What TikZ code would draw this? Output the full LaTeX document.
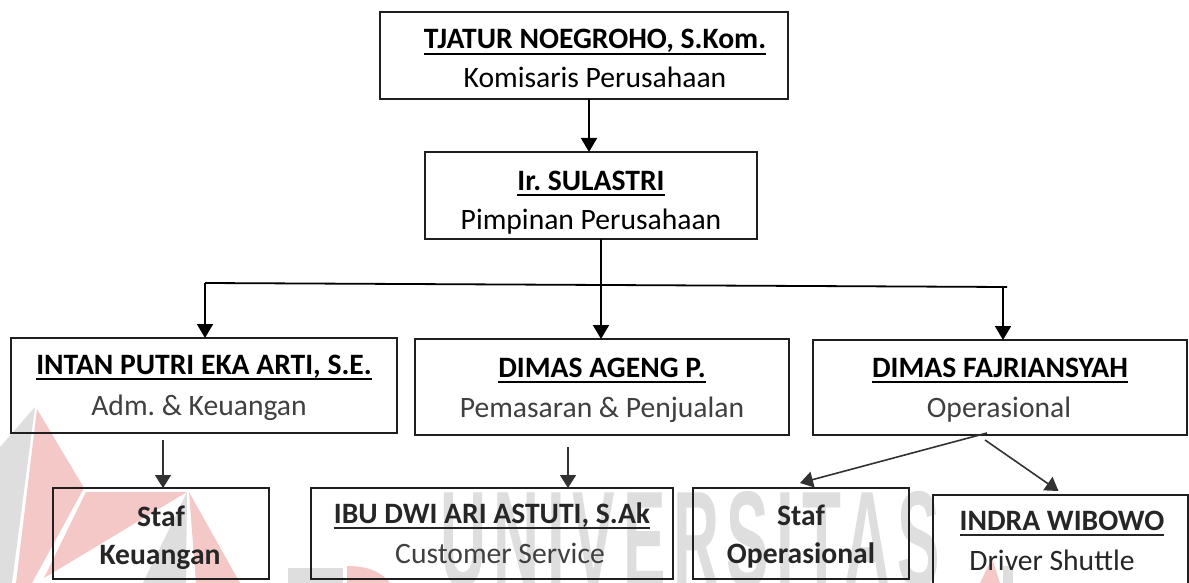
\documentclass[tikz,border=0pt]{standalone}
\usepackage{fontspec}
\setmainfont{Carlito}
\newfontfamily\wmfont[LetterSpace=12]{Liberation Sans}
\usetikzlibrary{arrows.meta}
\definecolor{wmred}{RGB}{245,200,200}
\definecolor{wmgrey}{RGB}{222,222,222}
\definecolor{rolegrey}{RGB}{64,64,64}
\definecolor{linegrey}{RGB}{50,50,50}
\newcommand\ulname[1]{\setbox0\hbox{#1}\rlap{\rule[-6pt]{\wd0}{2pt}}\box0}
\frenchspacing
\tikzset{
  bx/.style={draw=black!88, line width=1.8pt, inner sep=0pt, outer sep=0pt},
  nm/.style={anchor=base, inner sep=0pt, font=\fontsize{29.6}{35}\selectfont\bfseries, text=black},
  rl/.style={anchor=base, inner sep=0pt, font=\fontsize{29.6}{35}\selectfont, text=rolegrey},
  rlk/.style={rl, text=black},
  arr/.style={-{Triangle[width=16pt,length=14pt]}, line width=1.8pt, draw=black},
  arrg/.style={-{Triangle[width=16pt,length=13pt]}, line width=1.6pt, draw=linegrey},
}
\begin{document}
\begin{tikzpicture}[x=1pt,y=-1pt]
\clip (0,0) rectangle (1189,583);
\fill[white] (0,0) rectangle (1189,583);
% watermark
\fill[wmgrey] (35,407) -- (0,447) -- (0,583) -- (12,583) -- cycle;
\fill[wmred] (37,409) -- (84,488) -- (32,583) -- (16,583) -- cycle;
\fill[wmred] (187,492) -- (86,492) -- (44,578) -- cycle;
\fill[wmgrey] (187,492) -- (143,583) -- (186,583) -- cycle;
\fill[wmred] (189,492) -- (196,583) -- (240,583) -- cycle;
\fill[wmgrey] (288,568) rectangle (343,583);
\fill[wmred] (347,583) -- (347,566) .. controls (365,566) and (380,570) .. (390,583) -- cycle;
\fill[wmred] (980,583) -- (992,558) -- (1000,583) -- cycle;
\fill[wmgrey] (1003,566) rectangle (1013,583);
\node[anchor=south west, inner sep=0pt, text=wmgrey] (wmtext) at (440,588)
  {\resizebox{500pt}{95pt}{\wmfont\bfseries UNIVERSITAS}};
% boxes
\node[bx, minimum width=408pt, minimum height=87pt] (top) at (584,55.5) {};
\node[bx, minimum width=332pt, minimum height=87pt] (sul) at (591,195.5) {};
\node[bx, minimum width=386pt, minimum height=95pt] (intan) at (204,385.5) {};
\node[bx, minimum width=374pt, minimum height=96pt] (dimas) at (602,387) {};
\node[bx, minimum width=374pt, minimum height=95pt] (fajri) at (1000,387.5) {};
\node[bx, minimum width=216pt, minimum height=91pt] (stafk) at (161,533.5) {};
\node[bx, minimum width=362pt, minimum height=91pt] (ibu) at (492,533.5) {};
\node[bx, minimum width=216pt, minimum height=91pt] (stafo) at (801,533.5) {};
\node[bx, minimum width=255pt, minimum height=120pt] (indra) at (1060.5,555) {};
% texts
\node[nm] (topN) at (595,49) {\ulname{TJATUR NOEGROHO, S.Kom.}};
\node[rlk] (topR) at (595,88) {Komisaris Perusahaan};
\node[nm] (sulN) at (591,190) {\ulname{Ir. SULASTRI}};
\node[rlk] (sulR) at (591,229) {Pimpinan Perusahaan};
\node[nm] (intanN) at (204,374) {\ulname{INTAN PUTRI EKA ARTI, S.E.}};
\node[rl] (intanR) at (199,415) {Adm. \& Keuangan};
\node[nm] (dimasN) at (602,377) {\ulname{DIMAS AGENG P.}};
\node[rl] (dimasR) at (602,417) {Pemasaran \& Penjualan};
\node[nm] (fajriN) at (1000,377) {\ulname{DIMAS FAJRIANSYAH}};
\node[rl] (fajriR) at (999,417) {Operasional};
\node[nm, text=black!85] (stafkN) at (161,526) {Staf};
\node[nm, text=black!85] (stafkR) at (160,564) {Keuangan};
\node[nm, text=black!85] (ibuN) at (492,523) {\ulname{IBU DWI ARI ASTUTI, S.Ak}};
\node[rl] (ibuR) at (500,563) {Customer Service};
\node[nm, text=black!85] (stafoN) at (801,525) {Staf};
\node[nm, text=black!85] (stafoR) at (801,563) {Operasional};
\node[nm, text=black!85] (indraN) at (1062,530) {\ulname{INDRA WIBOWO}};
\node[rl, text=black!85] (indraR) at (1052,570) {Driver Shuttle};
% connectors
\coordinate (hl) at (205,283);
\coordinate (hr) at (1007,287);
\coordinate (hm) at (601,285);
\coordinate (t1) at (589,99);
\coordinate (t2) at (589,152);
\coordinate (f1) at (1003,286.5);
\coordinate (f2) at (1003,340);
\coordinate (k1) at (163,440);
\coordinate (k2) at (163,488);
\coordinate (d1) at (568,447);
\coordinate (d2) at (568,488);
\draw[arr] (t1) -- (t2);
\draw[line width=1.8pt] (hl) -- (hr);
\draw[arr] (sul.south -| hm) -- (dimas.north -| hm);
\draw[arr] (hl) -- (intan.north -| hl);
\draw[arr] (f1) -- (f2);
\draw[arrg] (k1) -- (k2);
\draw[arrg] (d1) -- (d2);
\draw[arrg] ([xshift=-13pt,yshift=2pt]fajri.south) -- ([xshift=-1pt,yshift=5pt]stafo.north);
\draw[arrg] ([xshift=-15pt,yshift=-5pt]fajri.south) -- ([xshift=-2pt,yshift=4pt]indra.north);
\end{tikzpicture}
\end{document}
